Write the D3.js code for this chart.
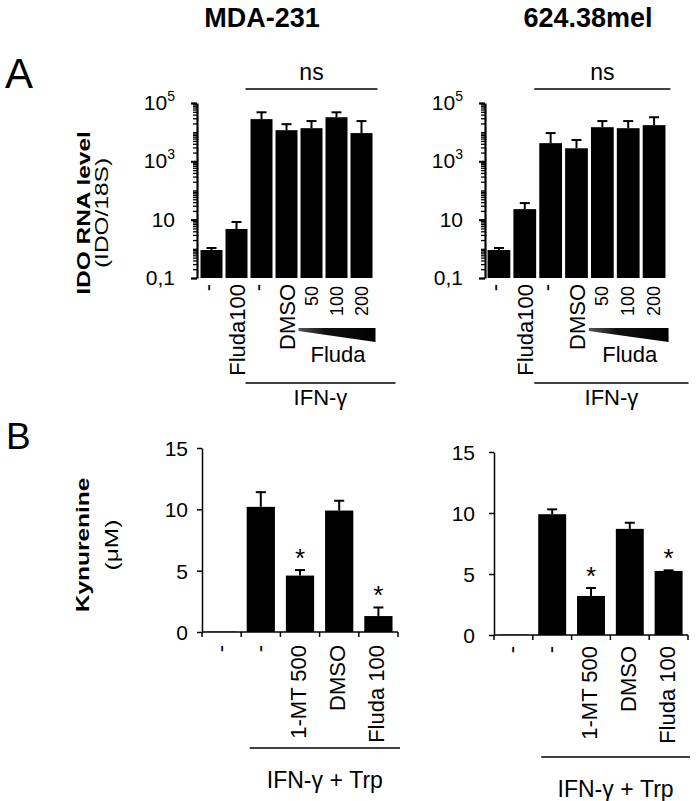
<!DOCTYPE html>
<html><head><meta charset="utf-8">
<script src="https://cdn.jsdelivr.net/npm/d3@7"></script>
<style>
body{margin:0;background:#fff}
svg text{font-family:"Liberation Sans",Arial,Helvetica,sans-serif;fill:#000}
</style>
</head><body>
<svg id="c" width="697" height="801"></svg>
<script>
// ---------- data ----------
const cellLines = ["MDA-231", "624.38mel"];
const panelLetters = ["A", "B"];
const idoLabels = ["-", "Fluda100", "-", "DMSO", "50", "100", "200"];
const idoMDA    = [0.91, 4.8, 28000, 11700, 13700, 32500, 9300];
const idoMDAErr = [1.07, 8.3, 48000, 18800, 24000, 48000, 24000];
const idoMel    = [0.91, 23, 4200, 2800, 14800, 13700, 17400];
const idoMelErr = [1.07, 37, 9300, 5400, 24000, 24000, 32500];
const idoTicks = [0.1, 10, 1e3, 1e5];
const idoTickLabels = [["0,1", ""], ["10", ""], ["10", "3"], ["10", "5"]];
const idoYLabel = ["IDO RNA level", "(IDO/18S)"];
const idoGroup = ["ns", "Fluda", "IFN-\u03b3"];

const kynLabels = ["-", "-", "1-MT 500", "DMSO", "Fluda 100"];
const kynMDA    = [0.03, 10.2, 4.6, 9.9, 1.3];
const kynMDAErr = [0.03, 11.4, 5.05, 10.7, 2.0];
const kynMel    = [0.03, 9.9, 3.2, 8.7, 5.25];
const kynMelErr = [0.03, 10.3, 3.85, 9.2, 5.3];
const kynSig = [false, false, true, false, true];
const kynTicks = [0, 5, 10, 15];
const kynYLabel = ["Kynurenine", "(\u03bcM)"];
const kynGroup = "IFN-\u03b3 + Trp";

// ---------- drawing ----------
const svg = d3.select("#c");

svg.append("text").attr("x", 262).attr("y", 27).attr("text-anchor", "middle")
  .attr("font-size", 27).attr("font-weight", "bold").text(cellLines[0]);
svg.append("text").attr("x", 588).attr("y", 27).attr("text-anchor", "middle")
  .attr("font-size", 27).attr("font-weight", "bold").text(cellLines[1]);
svg.append("text").attr("x", 5).attr("y", 88).attr("font-size", 42).text(panelLetters[0]);
svg.append("text").attr("x", 6).attr("y", 449).attr("font-size", 37).text(panelLetters[1]);

function yLabel(lines, cy, x1, x2) {
  svg.append("text").attr("transform", `translate(${x1},${cy}) rotate(-90) scale(1.36,1)`)
    .attr("text-anchor", "middle").attr("font-size", 18).attr("font-weight", "bold").text(lines[0]);
  svg.append("text").attr("transform", `translate(${x2},${cy}) rotate(-90) scale(1.36,1)`)
    .attr("text-anchor", "middle").attr("font-size", 18).text(lines[1]);
}
yLabel(idoYLabel, 213, 90, 108);
yLabel(kynYLabel, 545, 89, 118);

// ---------- panel A ----------
const yA = d3.scaleLog().domain([0.1, 1e5]).range([278, 103]);

function panelA(cfg, means, errs) {
  const g = svg.append("g");
  const x = d3.scaleBand().domain(d3.range(means.length)).range(cfg.range)
    .paddingInner(0.12).paddingOuter(0.06);
  const bw = x.bandwidth(), step = x.step();

  g.selectAll("rect.bar").data(means).join("rect")
    .attr("x", (d, i) => x(i)).attr("y", d => yA(d))
    .attr("width", bw).attr("height", d => yA(0.1) - yA(d)).attr("fill", "#000");
  errs.forEach((e, i) => {
    const cx = x(i) + bw / 2;
    g.append("line").attr("x1", cx).attr("x2", cx).attr("y1", yA(means[i])).attr("y2", yA(e))
      .attr("stroke", "#000").attr("stroke-width", 2);
    g.append("line").attr("x1", cx - 5).attr("x2", cx + 5).attr("y1", yA(e)).attr("y2", yA(e))
      .attr("stroke", "#000").attr("stroke-width", 2);
  });

  const ax = g.append("g").attr("transform", `translate(${cfg.axisX},0)`)
    .call(d3.axisLeft(yA).tickValues(yA.ticks()).tickSize(4).tickSizeOuter(0).tickFormat(""));
  ax.select(".domain").attr("stroke-width", 2.2);
  ax.selectAll(".tick line").attr("stroke-width", 1.3);
  const ax2 = g.append("g").attr("transform", `translate(${cfg.axisX},0)`)
    .call(d3.axisLeft(yA).tickValues(idoTicks).tickSize(6).tickSizeOuter(0).tickFormat(""));
  ax2.select(".domain").remove();
  ax2.selectAll(".tick line").attr("stroke-width", 2.2);

  idoTicks.forEach((t, i) => {
    const tx = g.append("text").attr("x", cfg.axisX - 22).attr("y", yA(t) + 7)
      .attr("text-anchor", "end").attr("font-size", 21);
    tx.append("tspan").text(idoTickLabels[i][0]);
    if (idoTickLabels[i][1]) tx.append("tspan").attr("dy", -9).attr("font-size", 14).text(idoTickLabels[i][1]);
  });

  idoLabels.forEach((lab, i) => {
    const cx = x(i) + bw / 2;
    const isNum = /^\d+$/.test(lab);
    const dx = lab === "-" ? 3 : (isNum ? 6 : 8);
    g.append("text").attr("transform", `translate(${cx + dx},${isNum ? 286 : 284}) rotate(-90)`)
      .attr("text-anchor", "end").attr("font-size", isNum ? 18 : 22).text(lab);
  });

  const nsX1 = x(2) - 5, nsX2 = x(6) + bw + 5;
  g.append("line").attr("x1", nsX1).attr("x2", nsX2).attr("y1", 89).attr("y2", 89)
    .attr("stroke", "#000").attr("stroke-width", 1.5);
  g.append("text").attr("x", (nsX1 + nsX2) / 2).attr("y", 80).attr("text-anchor", "middle")
    .attr("font-size", 23).text(idoGroup[0]);

  const w0 = x(3) + bw + 1, w1 = x(6) + step;
  g.append("polygon").attr("points", `${w0},328 ${w1},328 ${w1},342 ${w0},331`)
    .attr("fill", `url(#wedge)`);
  g.append("text").attr("x", (w0 + w1) / 2 + 1).attr("y", 362).attr("text-anchor", "middle")
    .attr("font-size", 22).text(idoGroup[1]);

  const l1 = x(2) - 5, l2 = x(6) + step + 20;
  g.append("line").attr("x1", l1).attr("x2", l2).attr("y1", 383).attr("y2", 383)
    .attr("stroke", "#000").attr("stroke-width", 1.5);
  g.append("text").attr("x", (l1 + l2) / 2).attr("y", 405).attr("text-anchor", "middle")
    .attr("font-size", 22).text(idoGroup[2]);
}

const defs = svg.append("defs");
const lg = defs.append("linearGradient").attr("id", "wedge").attr("x1", "0").attr("x2", "1").attr("y1", "0").attr("y2", "0");
lg.append("stop").attr("offset", "0").attr("stop-color", "#555");
lg.append("stop").attr("offset", "0.35").attr("stop-color", "#111");
lg.append("stop").attr("offset", "1").attr("stop-color", "#000");

panelA({axisX: 197, range: [199, 374]}, idoMDA, idoMDAErr);
panelA({axisX: 485, range: [486, 667]}, idoMel, idoMelErr);

// ---------- panel B ----------
function panelB(cfg, means, errs) {
  const g = svg.append("g");
  const y = d3.scaleLinear().domain([0, 15]).range(cfg.yRange);
  const x = d3.scaleBand().domain(d3.range(means.length)).range(cfg.range)
    .paddingInner(0.28).paddingOuter(0.14);
  const bw = x.bandwidth(), step = x.step();

  g.selectAll("rect").data(means).join("rect")
    .attr("x", (d, i) => x(i)).attr("y", d => y(d))
    .attr("width", bw).attr("height", d => y(0) - y(d)).attr("fill", "#000");
  errs.forEach((e, i) => {
    if (e - means[i] < 0.04) return;
    const cx = x(i) + bw / 2;
    g.append("line").attr("x1", cx).attr("x2", cx).attr("y1", y(means[i])).attr("y2", y(e))
      .attr("stroke", "#000").attr("stroke-width", 2);
    g.append("line").attr("x1", cx - 5).attr("x2", cx + 5).attr("y1", y(e)).attr("y2", y(e))
      .attr("stroke", "#000").attr("stroke-width", 2);
  });
  kynSig.forEach((s, i) => {
    if (!s) return;
    g.append("text").attr("x", x(i) + bw / 2).attr("y", y(errs[i]) - 3)
      .attr("text-anchor", "middle").attr("font-size", 26).text("*");
  });

  const ay = g.append("g").attr("transform", `translate(${cfg.range[0]},0)`)
    .call(d3.axisLeft(y).tickValues(kynTicks).tickSize(5).tickSizeOuter(0).tickPadding(cfg.pad));
  ay.select(".domain").attr("stroke-width", 1.5);
  ay.selectAll(".tick line").attr("stroke-width", 1.5);
  ay.selectAll(".tick text").attr("font-size", 21).attr("font-family", null).attr("dy", "0.36em");

  const bounds = d3.range(means.length + 1).map(i => cfg.range[0] + i * step);
  g.append("line").attr("x1", cfg.range[0]).attr("x2", cfg.range[1]).attr("y1", y(0)).attr("y2", y(0))
    .attr("stroke", "#000").attr("stroke-width", 1.5);
  bounds.forEach(b => g.append("line").attr("x1", b).attr("x2", b).attr("y1", y(0)).attr("y2", y(0) + 5)
    .attr("stroke", "#000").attr("stroke-width", 1.5));

  kynLabels.forEach((lab, i) => {
    const cx = x(i) + bw / 2;
    g.append("text").attr("transform", `translate(${cx + 6},${cfg.labY}) rotate(-90)`)
      .attr("text-anchor", "end").attr("font-size", 22).text(lab);
  });

  const l1 = x(1) + 3, l2 = cfg.range[1] + 2;
  g.append("line").attr("x1", l1).attr("x2", l2).attr("y1", cfg.lineY).attr("y2", cfg.lineY)
    .attr("stroke", "#000").attr("stroke-width", 1.5);
  g.append("text").attr("x", (l1 + l2) / 2).attr("y", cfg.lineY + 40).attr("text-anchor", "middle")
    .attr("font-size", 23).text(kynGroup);
}

panelB({range: [202, 398], yRange: [632, 448], pad: 9, labY: 645, lineY: 748}, kynMDA, kynMDAErr);
panelB({range: [494, 688], yRange: [635, 452], pad: 14, labY: 646, lineY: 757}, kynMel, kynMelErr);
</script>
</body></html>
